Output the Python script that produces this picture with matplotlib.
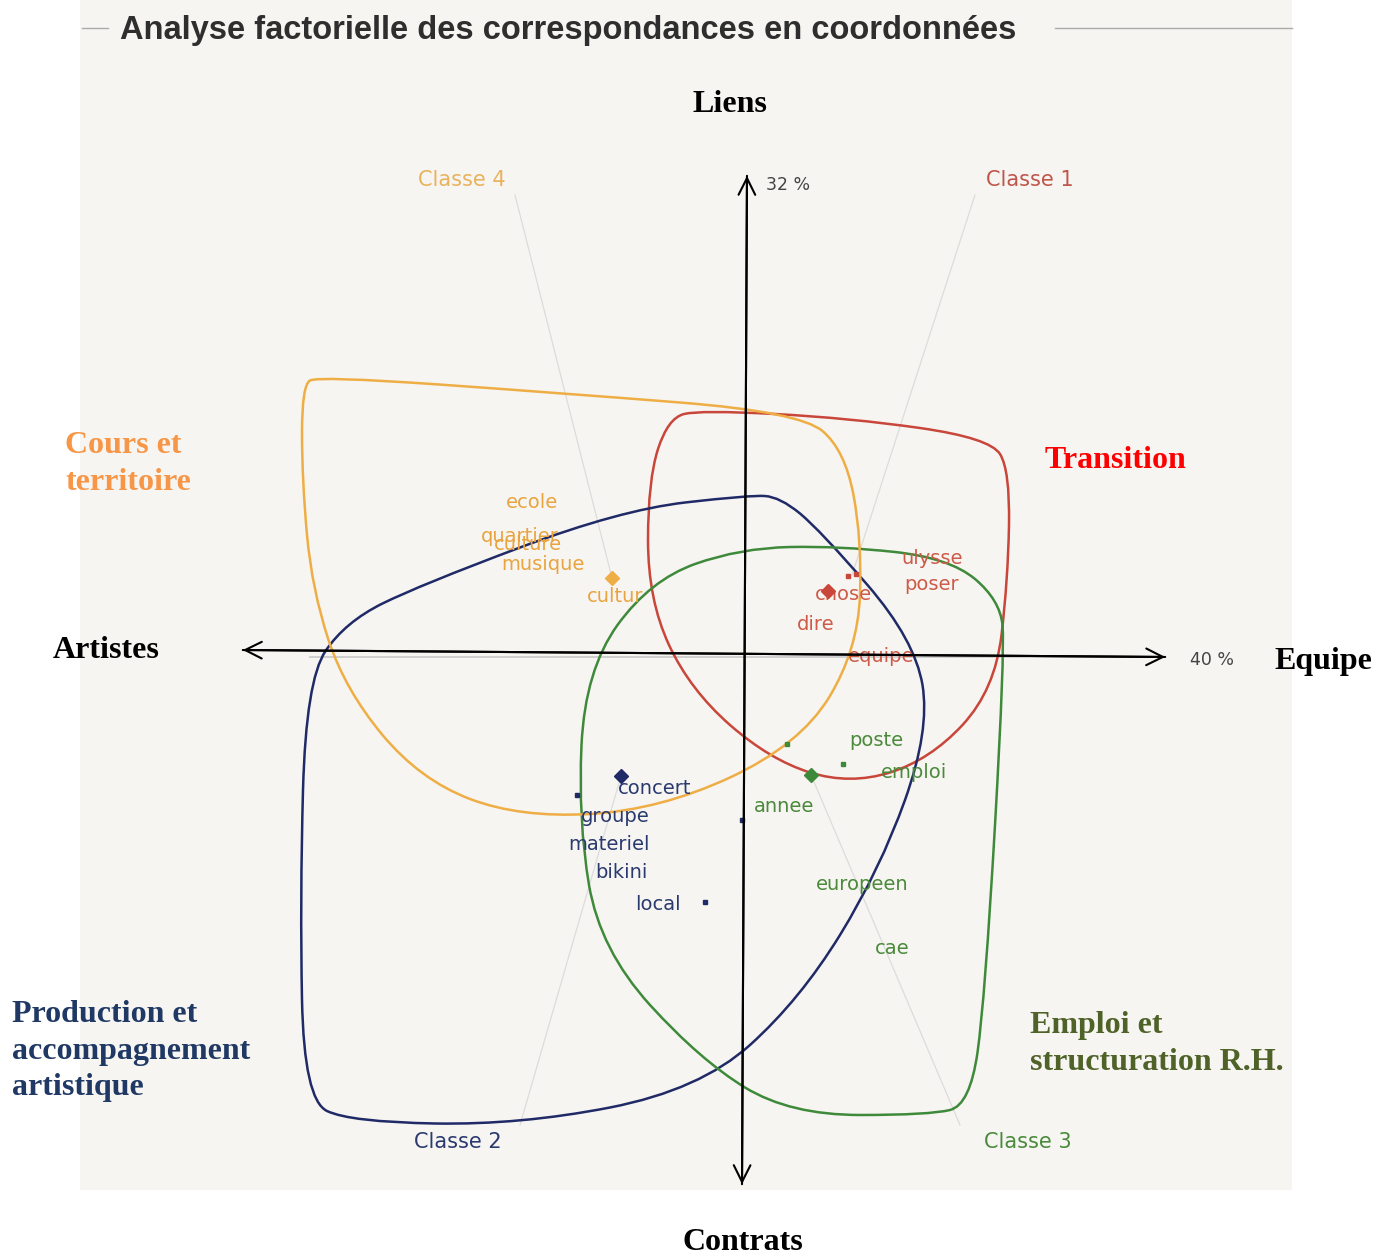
import matplotlib.pyplot as plt
import numpy as np
from matplotlib.path import Path
from matplotlib.patches import PathPatch, Rectangle

# Factor coordinates (1 unit = 100 px on the scan, origin at axes crossing)
classes = ['Classe 1', 'Classe 2', 'Classe 3', 'Classe 4']
class_colors = ['#c9463a', '#1f2a66', '#3f8a3a', '#efae45']
word_colors = ['#cf5a48', '#2a3a6e', '#4a8a3a', '#e9a43f']

words_c1 = ['ulysse', 'poser', 'chose', 'dire', 'equipe']
x_c1 = [1.87, 1.87, 0.98, 0.71, 1.36]
y_c1 = [0.96, 0.71, 0.61, 0.30, -0.01]

words_c2 = ['concert', 'groupe', 'materiel', 'bikini', 'local']
x_c2 = [-0.90, -1.30, -1.36, -1.24, -0.87]
y_c2 = [-1.33, -1.62, -1.90, -2.17, -2.49]

words_c3 = ['poste', 'emploi', 'annee', 'europeen', 'cae']
x_c3 = [1.31, 1.69, 0.39, 1.17, 1.47]
y_c3 = [-0.85, -1.18, -1.51, -2.30, -2.93]

words_c4 = ['ecole', 'quartier', 'culture', 'musique', 'cultur']
x_c4 = [-2.13, -2.25, -2.17, -2.02, -1.30]
y_c4 = [1.52, 1.19, 1.11, 0.91, 0.59]

# class centroids
cx = [0.83, -1.24, 0.66, -1.33]
cy = [0.64, -1.21, -1.20, 0.77]

# small point markers
pts_x = [1.03, 1.11, -0.40, -0.03, -1.68, 0.98, 0.42]
pts_y = [0.79, 0.81, -2.47, -1.65, -1.40, -1.09, -0.89]
pts_cls = [0, 0, 1, 1, 1, 2, 2]

# contour control polygons (quadratic closed B-spline)
ctrl_c1 = np.array([(700, 410), (850, 418), (990, 438), (1010, 470), (1008, 580),
                    (995, 690), (930, 760), (850, 785), (770, 760), (690, 690),
                    (648, 600), (648, 480), (668, 418)], float)
ctrl_c2 = np.array([(750, 495), (620, 510), (420, 585), (345, 622), (306, 680),
                    (300, 900), (304, 1100), (350, 1122), (520, 1125), (700, 1090),
                    (800, 1000), (880, 870), (930, 730), (915, 640), (820, 530),
                    (780, 497)], float)
ctrl_c3 = np.array([(840, 546), (950, 558), (1000, 600), (1005, 650), (985, 1000),
                    (970, 1105), (930, 1115), (790, 1115), (700, 1060), (600, 950),
                    (578, 820), (585, 670), (650, 580), (740, 548)], float)
ctrl_c4 = np.array([(302, 480), (302, 385), (318, 376), (560, 393), (800, 412),
                    (845, 450), (862, 540), (858, 650), (800, 745), (660, 810),
                    (520, 818), (420, 780), (345, 690), (312, 590)], float)


def to_factor(a):
    return np.column_stack([(a[:, 0] - 745) / 100, (655 - a[:, 1]) / 100])


def closed_bspline(ctrl):
    n = len(ctrl)
    mids = (ctrl + np.roll(ctrl, -1, axis=0)) / 2
    verts = [mids[-1]]
    codes = [Path.MOVETO]
    for i in range(n):
        verts += [ctrl[i], mids[i]]
        codes += [Path.CURVE3, Path.CURVE3]
    return Path(verts, codes)


W, H = 1375, 1255
fig = plt.figure(figsize=(W / 100, H / 100), dpi=100, facecolor='white')
ax = fig.add_axes([0, 0, 1, 1])
ax.set_xlim(-7.45, 6.30)
ax.set_ylim(-6.00, 6.55)
ax.axis('off')


def fx(px):
    return px / W


def fy(py):
    return 1 - py / H


# scanned page background
ax.add_patch(Rectangle((-6.65, -5.35), 12.12, 11.9, color='#f6f5f2', zorder=0, lw=0))

# faint software axis and class rays
ax.plot([-4.35, 4.1], [-0.02, -0.02], color='#c8c8c8', lw=1.2, zorder=1)
rays = [((2.30, 4.60), (1.07, 0.80)), ((-2.25, -4.70), (-1.24, -1.21)),
        ((2.15, -4.70), (0.66, -1.20)), ((-2.30, 4.60), (-1.33, 0.77))]
for (x0, y0), (x1, y1) in rays:
    ax.plot([x0, x1], [y0, y1], color='#dcdcdc', lw=0.9, zorder=1)

# contours
for ctrl, col in zip([ctrl_c1, ctrl_c2, ctrl_c3, ctrl_c4], class_colors):
    ax.add_patch(PathPatch(closed_bspline(to_factor(ctrl)), fill=False,
                           edgecolor=col, lw=1.8, zorder=3))

# words
for words, xs, ys, col in zip([words_c1, words_c2, words_c3, words_c4],
                              [x_c1, x_c2, x_c3, x_c4], [y_c1, y_c2, y_c3, y_c4],
                              word_colors):
    for w, x, y in zip(words, xs, ys):
        ax.text(x, y, w, color=col, fontsize=14, ha='center', va='center',
                family='DejaVu Sans', zorder=4)

# markers
for i in range(4):
    ax.plot(cx[i], cy[i], marker='D', ms=7, color=class_colors[i], zorder=5)
for x, y, c in zip(pts_x, pts_y, pts_cls):
    ax.plot(x, y, marker='s', ms=2.5, color=class_colors[c], zorder=5)

# black arrows
arrow = dict(arrowstyle='->', lw=1.5, color='black', mutation_scale=30)
ax.annotate('', xy=(4.23, -0.02), xytext=(-5.05, 0.05), arrowprops=arrow, zorder=6)
ax.annotate('', xy=(-5.05, 0.05), xytext=(4.23, -0.02), arrowprops=arrow, zorder=6)
ax.annotate('', xy=(0.02, 4.82), xytext=(-0.03, -5.32), arrowprops=arrow, zorder=6)
ax.annotate('', xy=(-0.03, -5.32), xytext=(0.02, 4.82), arrowprops=arrow, zorder=6)

# title and its rules
fig.text(fx(120), fy(31), 'Analyse factorielle des correspondances en coordonnées',
         fontsize=23.5, weight='bold', color='#2e2e2e', family='Liberation Sans',
         ha='left', va='center')
fig.add_artist(plt.Line2D([fx(82), fx(108)], [fy(28), fy(28)], color='#aaaaaa', lw=1))
fig.add_artist(plt.Line2D([fx(1055), fx(1292)], [fy(28), fy(28)], color='#aaaaaa', lw=1))

# class labels and percentages
lab = dict(fontsize=15, family='DejaVu Sans', ha='center', va='center')
fig.text(fx(462), fy(180), 'Classe 4', color='#e9b25c', **lab)
fig.text(fx(1030), fy(180), 'Classe 1', color='#c0554a', **lab)
fig.text(fx(458), fy(1142), 'Classe 2', color='#2a3a6e', **lab)
fig.text(fx(1028), fy(1142), 'Classe 3', color='#4a8a3a', **lab)
fig.text(fx(788), fy(185), '32 %', color='#444444', fontsize=12.5, family='DejaVu Sans',
         ha='center', va='center')
fig.text(fx(1212), fy(660), '40 %', color='#444444', fontsize=12.5, family='DejaVu Sans',
         ha='center', va='center')

# axis names and interpretation labels
ser = dict(fontsize=23, weight='bold', family='Liberation Serif', va='center')
fig.text(fx(730), fy(105), 'Liens', color='black', ha='center', **ser)
fig.text(fx(53), fy(650), 'Artistes', color='black', ha='left', **ser)
fig.text(fx(1274), fy(662), 'Equipe', color='black', ha='left', **ser)
fig.text(fx(743), fy(1242), 'Contrats', color='black', ha='center', **ser)
fig.text(fx(65), fy(464), 'Cours et\nterritoire', color='#f79646', ha='left',
         linespacing=1.32, **ser)
fig.text(fx(1045), fy(460), 'Transition', color='#ff0000', ha='left', **ser)
fig.text(fx(12), fy(1051), 'Production et\naccompagnement\nartistique', color='#1f3864',
         ha='left', linespacing=1.32, **ser)
fig.text(fx(1030), fy(1044), 'Emploi et\nstructuration R.H.', color='#4f6228',
         ha='left', linespacing=1.32, **ser)

fig.savefig('out.png', dpi=100, facecolor='white')
